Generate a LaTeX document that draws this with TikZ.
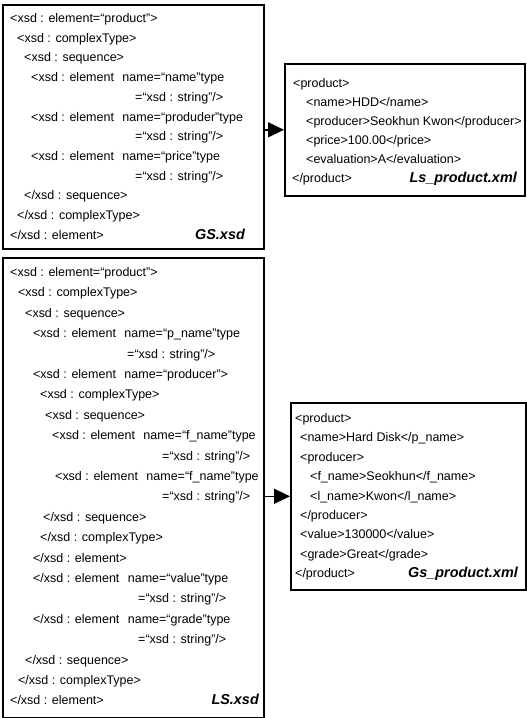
\documentclass[tikz,border=0pt]{standalone}
\usepackage{fontspec}
\setmainfont{Liberation Sans}
\usetikzlibrary{arrows.meta}

\begin{document}
\begin{tikzpicture}[x=1pt,y=-1pt,
  box/.style={draw,line width=1.6pt,inner sep=0pt,anchor=north west},
  txt/.style={anchor=base west,inner sep=0pt,font=\fontsize{12.5}{15}\selectfont},
  fname/.style={anchor=base east,inner sep=0pt,font=\fontsize{14.4}{17}\selectfont\bfseries\itshape},
  arr/.style={line width=1.6pt,-{Triangle[length=16pt,width=15pt]}}]
\useasboundingbox (0,0) rectangle (527,718);

% boxes
\node[box,minimum width=261pt,minimum height=244pt] (gsxsd) at (2,4) {};
\node[box,minimum width=261pt,minimum height=460pt] (lsxsd) at (2,257) {};
\node[box,minimum width=240pt,minimum height=132pt] (lsxml) at (284,63) {};
\node[box,minimum width=235pt,minimum height=187pt] (gsxml) at (290,402) {};

% GS.xsd
\node[txt] (gs1) at (10,22.5) {<xsd : element=“product”>};
\node[txt] (gs2) at (17,42.2) {<xsd : complexType>};
\node[txt] (gs3) at (24,61.9) {<xsd : sequence>};
\node[txt] (gs4) at (31,81.6) {<xsd : element\hspace{5pt} name=“name”type};
\node[txt] (gs5) at (135,101.3) {=“xsd : string”/>};
\node[txt] (gs6) at (31,121) {<xsd : element\hspace{5pt} name=“produder”type};
\node[txt] (gs7) at (135,140.7) {=“xsd : string”/>};
\node[txt] (gs8) at (31,160.4) {<xsd : element\hspace{5pt} name=“price”type};
\node[txt] (gs9) at (135,180.1) {=“xsd : string”/>};
\node[txt] (gs10) at (24,199.8) {</xsd : sequence>};
\node[txt] (gs11) at (17,219.5) {</xsd : complexType>};
\node[txt] (gs12) at (10,239.2) {</xsd : element>};
\node[fname] (gsname) at (245,239.2) {GS.xsd};

% LS.xsd
\node[txt] (ls1) at (10,276.5) {<xsd : element=“product”>};
\node[txt] (ls2) at (18,296.9) {<xsd : complexType>};
\node[txt] (ls3) at (25,317.3) {<xsd : sequence>};
\node[txt] (ls4) at (33,337.7) {<xsd : element\hspace{5pt} name=“p\_name”type};
\node[txt] (ls5) at (127,358.1) {=“xsd : string”/>};
\node[txt] (ls6) at (33,378.5) {<xsd : element\hspace{5pt} name=“producer”>};
\node[txt] (ls7) at (40,398.9) {<xsd : complexType>};
\node[txt] (ls8) at (45,419.3) {<xsd : sequence>};
\node[txt] (ls9) at (52,439.7) {<xsd : element\hspace{5pt} name=“f\_name”type};
\node[txt] (ls10) at (162,460.1) {=“xsd : string”/>};
\node[txt] (ls11) at (55,480.5) {<xsd : element\hspace{5pt} name=“f\_name”type};
\node[txt] (ls12) at (162,500.9) {=“xsd : string”/>};
\node[txt] (ls13) at (43,521.3) {</xsd : sequence>};
\node[txt] (ls14) at (40,541.7) {</xsd : complexType>};
\node[txt] (ls15) at (33,562.1) {</xsd : element>};
\node[txt] (ls16) at (33,582.5) {</xsd : element\hspace{5pt} name=“value”type};
\node[txt] (ls17) at (138,602.9) {=“xsd : string”/>};
\node[txt] (ls18) at (33,623.3) {</xsd : element\hspace{5pt} name=“grade”type};
\node[txt] (ls19) at (138,643.7) {=“xsd : string”/>};
\node[txt] (ls20) at (25,664.1) {</xsd : sequence>};
\node[txt] (ls21) at (18,684.5) {</xsd : complexType>};
\node[txt] (ls22) at (10,704.9) {</xsd : element>};
\node[fname] (lsname) at (259,704.9) {LS.xsd};

% Ls_product.xml
\node[txt] (lx1) at (293,87.5) {<product>};
\node[txt] (lx2) at (306,106.5) {<name>HDD</name>};
\node[txt] (lx3) at (306,125.5) {<producer>Seokhun Kwon</producer>};
\node[txt] (lx4) at (306,144.5) {<price>100.00</price>};
\node[txt] (lx5) at (306,163.5) {<evaluation>A</evaluation>};
\node[txt] (lx6) at (292,182.5) {</product>};
\node[fname] (lxname) at (517,182.5) {Ls\_product.xml};

% Gs_product.xml
\node[txt] (gx1) at (295,422.5) {<product>};
\node[txt] (gx2) at (300,441.9) {<name>Hard Disk</p\_name>};
\node[txt] (gx3) at (300,461.3) {<producer>};
\node[txt] (gx4) at (310,480.7) {<f\_name>Seokhun</f\_name>};
\node[txt] (gx5) at (310,500.1) {<l\_name>Kwon</l\_name>};
\node[txt] (gx6) at (300,519.5) {</producer>};
\node[txt] (gx7) at (300,538.9) {<value>130000</value>};
\node[txt] (gx8) at (300,558.3) {<grade>Great</grade>};
\node[txt] (gx9) at (295,577.7) {</product>};
\node[fname] (gxname) at (518,577.7) {Gs\_product.xml};

% arrows
\draw[arr] (gsxsd.east |- lsxml.west) -- (lsxml.west);
\draw[arr] (lsxsd.east |- gsxml.west) -- (gsxml.west);
\end{tikzpicture}
\end{document}
